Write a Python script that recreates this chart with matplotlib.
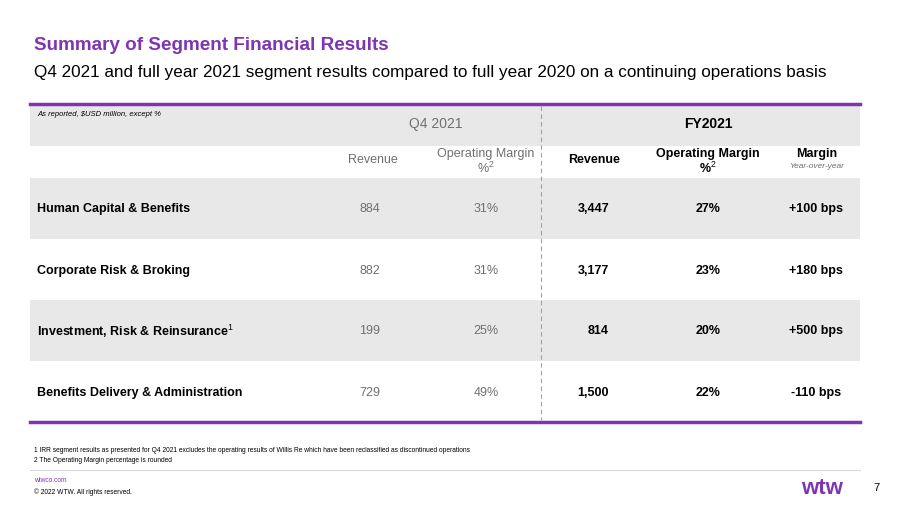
import matplotlib.pyplot as plt
from matplotlib.patches import Rectangle

segments = ["Human Capital & Benefits", "Corporate Risk & Broking",
            "Investment, Risk & Reinsurance$^{1}$", "Benefits Delivery & Administration"]
q4_revenue = ["884", "882", "199", "729"]
q4_margin = ["31%", "31%", "25%", "49%"]
fy_revenue = ["3,447", "3,177", "814", "1,500"]
fy_margin = ["27%", "23%", "20%", "22%"]
margin_yoy = ["+100 bps", "+180 bps", "+500 bps", "-110 bps"]

PURPLE = "#7F35B2"
GRAY = "#E8E8E8"
GREYTXT = "#707070"

plt.rcParams["font.family"] = ["Liberation Sans", "DejaVu Sans"]
plt.rcParams["mathtext.fontset"] = "custom"
plt.rcParams["mathtext.rm"] = "Liberation Sans"

fig = plt.figure(figsize=(9.11, 5.12), dpi=100)
ax = fig.add_axes([0, 0, 1, 1])
ax.set_xlim(0, 911)
ax.set_ylim(512, 0)
ax.axis("off")

ax.text(34, 46, "Summary of Segment Financial Results", color=PURPLE, fontsize=13.6,
        fontweight="bold", va="center")
ax.text(34, 73, "Q4 2021 and full year 2021 segment results compared to full year 2020 on a continuing operations basis",
        color="black", fontsize=12.3, va="center")

# bands
ax.add_patch(Rectangle((30, 104), 830, 42, color=GRAY, lw=0))
row_y = [178, 240, 300, 362]
row_h = 61
for i, y0 in enumerate(row_y):
    if i % 2 == 0:
        ax.add_patch(Rectangle((30, y0), 830, row_h, color=GRAY, lw=0))
ax.plot([30, 860], [104, 104], color=PURPLE, lw=2.5)
ax.plot([30, 860], [422, 422], color=PURPLE, lw=2.5)
ax.plot([541, 541], [106, 420], color="#A0A0A0", lw=0.8, ls=(0, (4, 3)))

ax.text(37, 114, "As reported, $USD million, except %", fontsize=5.5, style="italic", va="center")
ax.text(436, 124, "Q4 2021", fontsize=10, color=GREYTXT, ha="center", va="center")
ax.text(708, 124, "FY2021", fontsize=10, fontweight="bold", ha="center", va="center")

hy = 160
ax.text(398, hy, "Revenue", fontsize=9, color=GREYTXT, ha="right", va="center")
ax.text(486, hy - 6, "Operating Margin", fontsize=9, color=GREYTXT, ha="center", va="center")
ax.text(486, hy + 8, "%$^{2}$", fontsize=9, color=GREYTXT, ha="center", va="center")
ax.text(620, hy, "Revenue", fontsize=9, fontweight="bold", ha="right", va="center")
ax.text(708, hy - 6, "Operating Margin", fontsize=9, fontweight="bold", ha="center", va="center")
ax.text(708, hy + 8, "%$^{2}$", fontsize=9, fontweight="bold", ha="center", va="center")
ax.text(817, hy - 6, "Margin", fontsize=9, fontweight="bold", ha="center", va="center")
ax.text(817, hy + 7, "Year-over-year", fontsize=6, style="italic", color=GREYTXT, ha="center", va="center")

for i, y0 in enumerate(row_y):
    yc = y0 + 31
    ax.text(37, yc, segments[i], fontsize=9, fontweight="bold", va="center")
    ax.text(380, yc, q4_revenue[i], fontsize=9, color=GREYTXT, ha="right", va="center")
    ax.text(486, yc, q4_margin[i], fontsize=9, color=GREYTXT, ha="center", va="center")
    ax.text(609, yc, fy_revenue[i], fontsize=9, fontweight="bold", ha="right", va="center")
    ax.text(708, yc, fy_margin[i], fontsize=9, fontweight="bold", ha="center", va="center")
    ax.text(816, yc, margin_yoy[i], fontsize=9, fontweight="bold", ha="center", va="center")

ax.text(34, 450, "1 IRR segment results as presented for Q4 2021 excludes the operating results of Willis Re which have been reclassified as discontinued operations",
        fontsize=4.8, va="center")
ax.text(34, 460, "2 The Operating Margin percentage is rounded", fontsize=4.8, va="center")
ax.plot([30, 860], [470, 470], color="#D8D8D8", lw=0.8)
ax.text(34, 480, "wtwco.com", fontsize=4.8, color=PURPLE, va="center")
ax.text(34, 492, "\u00a9 2022 WTW. All rights reserved.", fontsize=4.8, va="center")
ax.text(822, 488, "wtw", fontsize=16, fontweight="bold", color=PURPLE, ha="center", va="center")
ax.text(876, 488, "7", fontsize=8, va="center", ha="center")

fig.savefig("out.png", dpi=100)
